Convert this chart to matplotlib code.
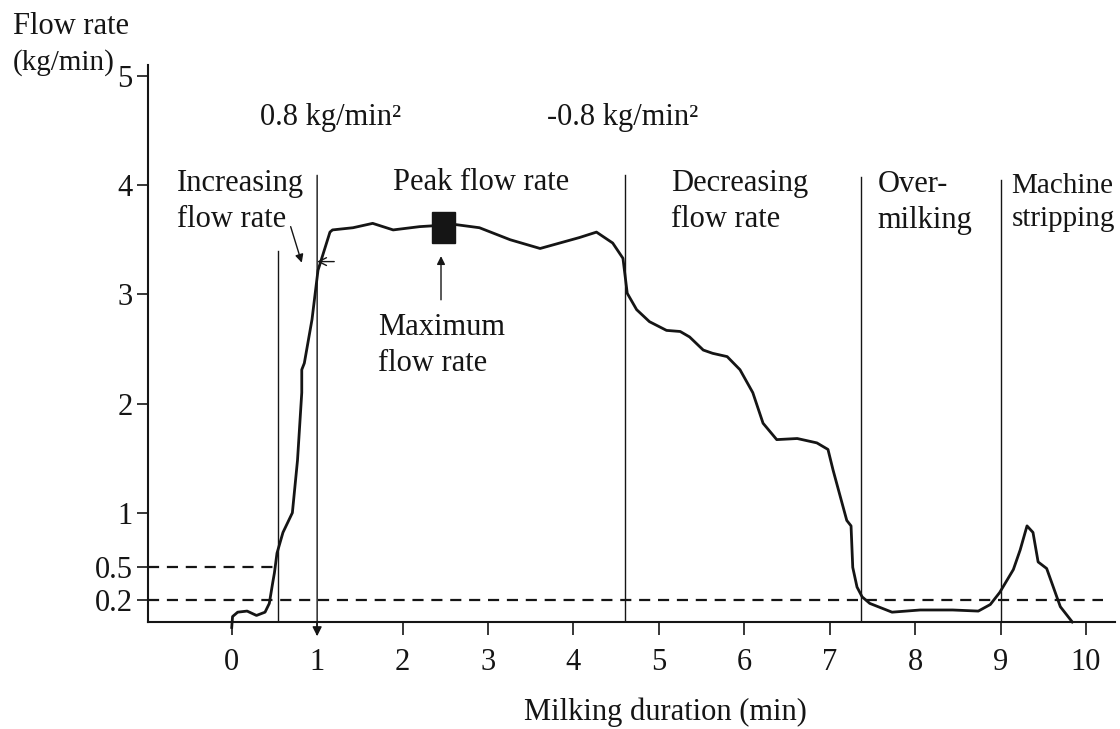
import numpy as np
import matplotlib
matplotlib.use("Agg")
import matplotlib.pyplot as plt
from matplotlib.patches import Rectangle

plt.rcParams['font.family'] = ['Liberation Serif', 'DejaVu Serif']

# milk flow curve
time_min = [0.0, 0.01, 0.07, 0.18, 0.29, 0.39, 0.44, 0.48, 0.50, 0.53, 0.60, 0.71,
            0.77, 0.82, 0.82, 0.85, 0.94, 1.01, 1.05, 1.15, 1.18, 1.42, 1.65, 1.89,
            2.20, 2.61, 2.90, 3.26, 3.61, 3.84, 4.07, 4.27, 4.46, 4.58, 4.63, 4.74,
            4.89, 5.09, 5.25, 5.36, 5.52, 5.63, 5.80, 5.95, 6.10, 6.22, 6.38, 6.62,
            6.85, 6.98, 7.04, 7.20, 7.25, 7.27, 7.32, 7.38, 7.47, 7.73, 8.06, 8.44,
            8.74, 8.88, 8.99, 9.15, 9.23, 9.31, 9.38, 9.44, 9.54, 9.70, 9.84]
flow_rate = [-0.05, 0.05, 0.09, 0.10, 0.06, 0.09, 0.17, 0.36, 0.45, 0.63, 0.82, 1.00,
             1.48, 2.10, 2.31, 2.37, 2.77, 3.22, 3.32, 3.57, 3.59, 3.61, 3.65, 3.59,
             3.62, 3.64, 3.61, 3.50, 3.42, 3.47, 3.52, 3.57, 3.47, 3.33, 3.01, 2.86,
             2.75, 2.67, 2.66, 2.61, 2.49, 2.46, 2.43, 2.31, 2.10, 1.82, 1.67, 1.68,
             1.64, 1.58, 1.39, 0.93, 0.88, 0.50, 0.32, 0.23, 0.17, 0.09, 0.11, 0.11,
             0.10, 0.16, 0.27, 0.48, 0.66, 0.88, 0.82, 0.55, 0.49, 0.14, 0.0]

# phase boundaries (min) and how high each line is drawn
phase_x = [0.54, 1.0, 4.6, 7.37, 9.0]
phase_top = [3.40, 4.09, 4.09, 4.07, 4.05]
phase_names = ["Increasing\nflow rate", "Peak flow rate", "Decreasing\nflow rate",
               "Over-\nmilking", "Machine\nstripping"]

thresholds = [0.5, 0.2]
slopes = ["0.8 kg/min²", "-0.8 kg/min²"]
max_time, max_rate = 2.48, 3.61

xticks = list(range(0, 11))
yticks = [0.2, 0.5, 1, 2, 3, 4, 5]

fig = plt.figure(figsize=(11.2, 7.29), dpi=100)
ax = fig.add_axes([148/1120, 1 - 622/729, (1115 - 148)/1120, (622 - 65)/729])
ax.set_xlim(-0.98, 10.34)
ax.set_ylim(0, 5.1)

ink = "#151515"
ax.plot(time_min, flow_rate, color=ink, lw=2.0, clip_on=False, zorder=3)

# dashed threshold lines
ax.plot([-0.98, phase_x[0]], [thresholds[0]] * 2, color=ink, lw=1.6, ls=(0, (5, 3.5)))
ax.plot([-0.98, 10.2], [thresholds[1]] * 2, color=ink, lw=1.6, ls=(0, (5, 3.5)))

# phase separators
for i, (px, top) in enumerate(zip(phase_x, phase_top)):
    if i == 1:
        ax.annotate("", xy=(px, -0.13), xytext=(px, top), annotation_clip=False,
                    arrowprops=dict(arrowstyle="-|>", color=ink, lw=1.0,
                                    mutation_scale=14, shrinkA=0, shrinkB=0))
    else:
        ax.plot([px, px], [0, top], color=ink, lw=1.0)

# phase labels
fs = 22
lsp = 1.32
ax.text(-0.64, 3.85, phase_names[0], fontsize=fs, ha="left", va="center", color=ink,
        linespacing=lsp)
ax.text(1.89, 4.02, phase_names[1], fontsize=fs, ha="left", va="center", color=ink)
ax.text(5.14, 3.85, phase_names[2], fontsize=fs, ha="left", va="center", color=ink,
        linespacing=lsp)
ax.text(7.56, 3.84, phase_names[3], fontsize=fs, ha="left", va="center", color=ink,
        linespacing=lsp)
ax.text(9.13, 3.84, phase_names[4], fontsize=21, ha="left", va="center", color=ink,
        linespacing=1.38, clip_on=False)

ax.text(0.33, 4.62, slopes[0], fontsize=fs, ha="left", va="center", color=ink)
ax.text(3.69, 4.62, slopes[1], fontsize=fs, ha="left", va="center", color=ink)

# arrows
ax.annotate("", xy=(0.82, 3.29), xytext=(0.69, 3.62),
            arrowprops=dict(arrowstyle="-|>", color=ink, lw=1.0, mutation_scale=12,
                            shrinkA=0, shrinkB=0))
ax.annotate("", xy=(1.0, 3.30), xytext=(1.2, 3.30),
            arrowprops=dict(arrowstyle="->", color=ink, lw=1.0, mutation_scale=14,
                            shrinkA=0, shrinkB=0))

# maximum flow marker
ax.add_patch(Rectangle((max_time - 0.13, max_rate - 0.14), 0.26, 0.28,
                       facecolor=ink, edgecolor=ink, zorder=4))
ax.annotate("", xy=(max_time - 0.03, max_rate - 0.26), xytext=(max_time - 0.03, 2.95),
            arrowprops=dict(arrowstyle="-|>", color=ink, lw=1.0, mutation_scale=12,
                            shrinkA=0, shrinkB=0))
ax.text(1.71, 2.53, "Maximum\nflow rate", fontsize=fs, ha="left", va="center", color=ink,
        linespacing=lsp)

# axes styling
for s in ["top", "right"]:
    ax.spines[s].set_visible(False)
for s in ["left", "bottom"]:
    ax.spines[s].set_linewidth(1.5)
    ax.spines[s].set_color(ink)

ax.set_xticks(xticks)
ax.set_xticklabels([str(t) for t in xticks])
ax.set_yticks(yticks)
ax.set_yticklabels([str(t) for t in yticks])
ax.tick_params(axis="x", direction="out", length=9, width=1.2, labelsize=fs, pad=10,
               colors=ink)
ax.tick_params(axis="y", direction="out", length=8, width=1.2, labelsize=fs, pad=3,
               colors=ink)

fig.text(13/1120, 1 - 27/729, "Flow rate", fontsize=fs, ha="left", va="center", color=ink)
fig.text(13/1120, 1 - 63/729, "(kg/min)", fontsize=21, ha="left", va="center", color=ink)
fig.text(665/1120, 1 - 712/729, "Milking duration (min)", fontsize=fs, ha="center",
         va="center", color=ink)

fig.savefig("out.png", dpi=100)
